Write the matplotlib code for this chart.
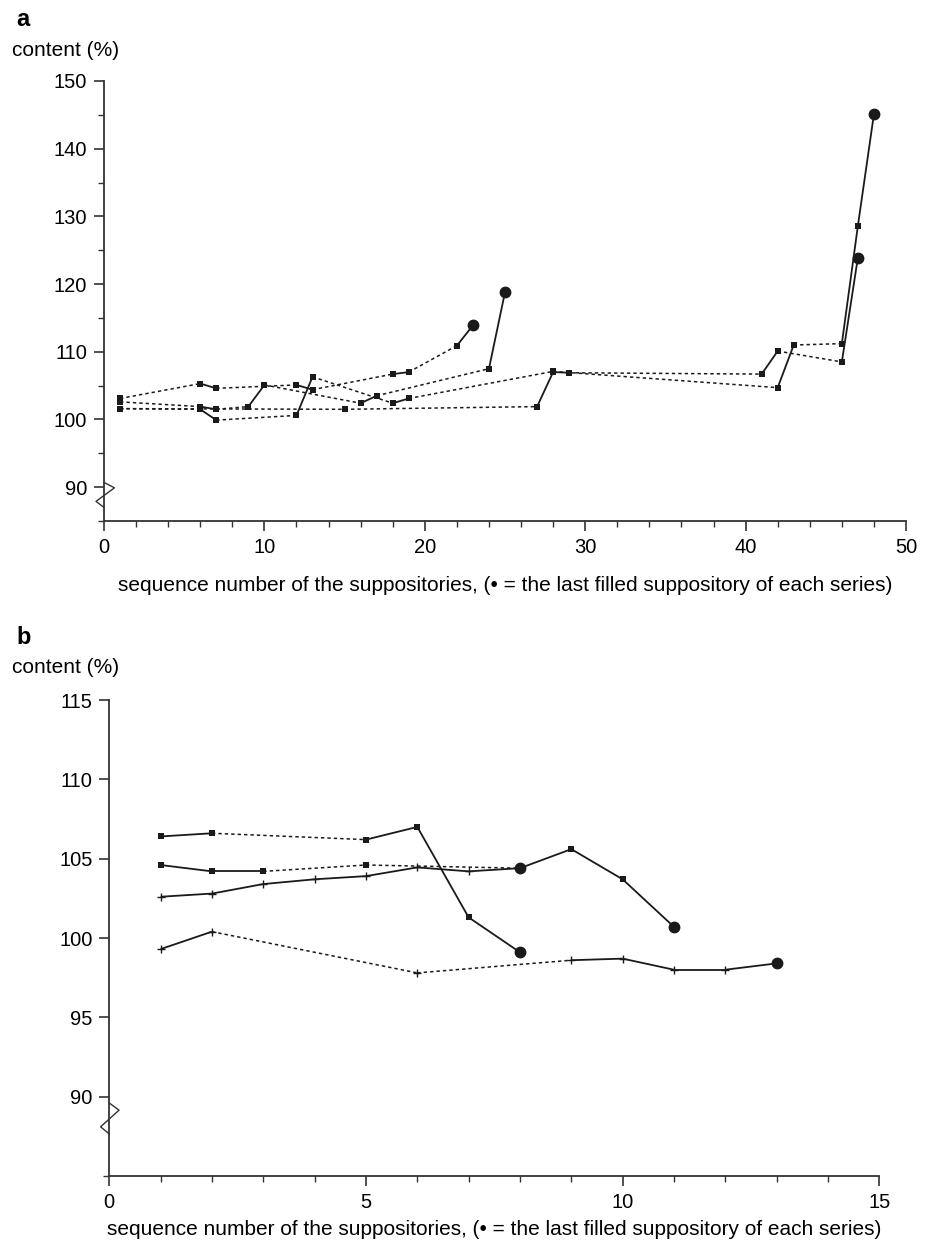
import matplotlib
matplotlib.use("Agg")
import matplotlib.pyplot as plt
from matplotlib.ticker import MultipleLocator, FixedLocator

plt.rcParams['font.family'] = ['Liberation Sans', 'DejaVu Sans']

# panel a: four series, last point = last filled suppository
a1_x = [1, 6, 7, 12, 13, 18, 19, 22, 23]
a1_y = [103.1, 105.3, 104.6, 105.1, 104.4, 106.7, 107.0, 110.9, 113.9]
a2_x = [1, 6, 7, 9, 10, 16, 17, 24, 25]
a2_y = [102.6, 101.9, 101.5, 101.9, 105.1, 102.4, 103.5, 107.5, 118.8]
a3_x = [1, 6, 7, 12, 13, 18, 19, 28, 42, 43, 46, 47, 48]
a3_y = [101.6, 101.5, 99.9, 100.6, 106.3, 102.4, 103.1, 107.1, 104.7, 111.0, 111.2, 128.6, 145.1]
a4_x = [1, 15, 27, 28, 29, 41, 42, 46, 47]
a4_y = [101.6, 101.5, 101.9, 107.0, 106.9, 106.7, 110.1, 108.5, 123.9]

# panel b
b1_x = [1, 2, 5, 6, 7, 8]
b1_y = [106.4, 106.6, 106.2, 107.0, 101.3, 99.1]
b2_x = [1, 2, 3, 5, 8, 9, 10, 11]
b2_y = [104.6, 104.2, 104.2, 104.6, 104.4, 105.6, 103.7, 100.7]
b3_x = [1, 2, 3, 4, 5, 6, 7, 8]
b3_y = [102.6, 102.8, 103.4, 103.7, 103.9, 104.45, 104.2, 104.4]
b4_x = [1, 2, 6, 9, 10, 11, 12, 13]
b4_y = [99.3, 100.4, 97.8, 98.6, 98.7, 98.0, 98.0, 98.4]

xlabel = "sequence number of the suppositories, (\u2022 = the last filled suppository of each series)"
col = '#1a1a1a'


def draw_series(ax, xs, ys, marker, ms, mew=0.0):
    # solid between consecutive suppositories, dotted across gaps
    for i in range(len(xs) - 1):
        ls = '-' if xs[i + 1] - xs[i] == 1 else (0, (2.2, 2.0))
        lw = 1.3 if ls == '-' else 1.1
        ax.plot(xs[i:i + 2], ys[i:i + 2], color=col, lw=lw, ls=ls,
                solid_capstyle='butt', zorder=2)
    ax.plot(xs[:-1], ys[:-1], ls='none', marker=marker, ms=ms, color=col,
            mec=col, mew=mew, zorder=3)
    ax.plot(xs[-1], ys[-1], ls='none', marker='o', ms=7.5, color=col, zorder=4)


def style_axes(ax):
    for s in ['top', 'right']:
        ax.spines[s].set_visible(False)
    for s in ['left', 'bottom']:
        ax.spines[s].set_color('#333333')
        ax.spines[s].set_linewidth(1.3)
    ax.tick_params(which='major', direction='out', length=7, width=1.2,
                   color='#333333', labelsize=14.5, pad=5)
    ax.tick_params(which='minor', direction='out', length=4, width=1.0,
                   color='#333333')


fig = plt.figure(figsize=(9.28, 12.43), dpi=100)
W, H = 928.0, 1243.0

# ---- panel a ----
ax = fig.add_axes([104 / W, 1 - 521 / H, (906 - 104) / W, (521 - 81) / H])
for xs, ys in [(a1_x, a1_y), (a2_x, a2_y), (a3_x, a3_y), (a4_x, a4_y)]:
    draw_series(ax, xs, ys, 's', 4.2)
ax.set_xlim(0, 50)
ax.set_ylim(85, 150)
ax.xaxis.set_major_locator(MultipleLocator(10))
ax.xaxis.set_minor_locator(MultipleLocator(2))
ax.yaxis.set_major_locator(FixedLocator([90, 100, 110, 120, 130, 140, 150]))
ax.yaxis.set_minor_locator(FixedLocator([85, 95, 105, 115, 125, 135, 145]))
style_axes(ax)
ax.set_xlabel(xlabel, fontsize=15, labelpad=14)
# axis break
ax.plot([0, 0.65, -0.5, 0], [90.7, 89.9, 87.9, 87.0], color='#333333',
        lw=1.0, clip_on=False, zorder=5)
fig.text(16 / W, 1 - 20 / H, 'a', fontsize=17, fontweight='bold', va='center')
fig.text(12 / W, 1 - 50 / H, 'content (%)', fontsize=15, va='center')

# ---- panel b ----
bx = fig.add_axes([109.3 / W, 1 - 1176 / H, (879.3 - 109.3) / W, (1176 - 700) / H])
for xs, ys, m, ms, mew in [(b1_x, b1_y, 's', 4.2, 0.0), (b2_x, b2_y, 's', 4.2, 0.0),
                           (b3_x, b3_y, '+', 6, 1.0), (b4_x, b4_y, '+', 6, 1.0)]:
    draw_series(bx, xs, ys, m, ms, mew)
bx.set_xlim(0, 15)
bx.set_ylim(85, 115)
bx.xaxis.set_major_locator(MultipleLocator(5))
bx.xaxis.set_minor_locator(MultipleLocator(1))
bx.yaxis.set_major_locator(FixedLocator([90, 95, 100, 105, 110, 115]))
bx.yaxis.set_minor_locator(FixedLocator([85]))
style_axes(bx)
bx.set_xlabel(xlabel, fontsize=15, labelpad=6)
bx.plot([0, 0.19, -0.17, 0], [89.6, 89.15, 88.1, 87.65], color='#333333',
        lw=1.0, clip_on=False, zorder=5)
fig.text(16 / W, 1 - 638 / H, 'b', fontsize=17, fontweight='bold', va='center')
fig.text(12 / W, 1 - 668 / H, 'content (%)', fontsize=15, va='center')

fig.savefig('out.png', dpi=100)
